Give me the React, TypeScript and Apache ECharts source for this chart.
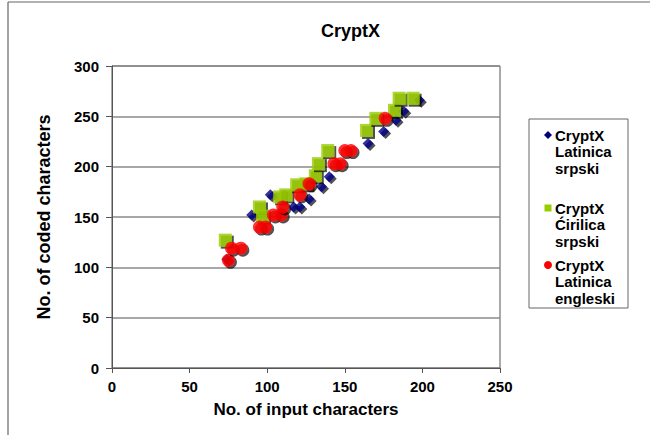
import React, { useEffect, useRef } from "react";
import * as echarts from "echarts";

const titleText = "CryptX";
const xAxisName = "No. of input characters";
const yAxisName = "No. of coded characters";

const seriesNames = ["CryptX\nLatinica\nsrpski", "CryptX\nĆirilica\nsrpski", "CryptX\nLatinica\nengleski"];
const seriesColors = ["#000080", "#99cc00", "#ff0000"];

const latSrpX = [74, 90, 102, 117, 121, 127, 135, 140, 165, 175, 183, 188, 198];
const latSrpY = [108, 152, 172, 160, 160, 168, 180, 190, 223, 235, 246, 255, 266];

const cirSrpX = [73, 95, 97, 108, 112, 119, 125, 131, 133, 139, 164, 170, 182, 185, 194];
const cirSrpY = [127, 160, 151, 170, 172, 182, 183, 191, 203, 216, 236, 248, 256, 268, 268];

const latEngX = [75, 77, 83, 95, 99, 104, 109, 110, 121, 127, 143, 147, 150, 154, 176];
const latEngY = [107, 119, 119, 140, 140, 152, 152, 160, 172, 183, 203, 203, 216, 216, 248];

const xTicks = { min: 0, max: 250, interval: 50 };
const yTicks = { min: 0, max: 300, interval: 50 };

function pairs(xs: number[], ys: number[]) {
  return xs.map((x, i) => [x, ys[i]]);
}

export default function App() {
  const ref = useRef<HTMLDivElement>(null);
  useEffect(() => {
    if (!ref.current) return;
    const chart = echarts.init(ref.current, null, { renderer: "svg" });
    const font = "Liberation Sans, Arial, sans-serif";
    const shadow = {
      shadowColor: "rgba(0,0,0,0.85)",
      shadowBlur: 1,
      shadowOffsetX: 2,
      shadowOffsetY: 2,
    };
    const legendTexts = [
      { y: 127, name: seriesNames[0] },
      { y: 200, name: seriesNames[1] },
      { y: 257, name: seriesNames[2] },
    ];
    chart.setOption({
      animation: false,
      backgroundColor: "#ffffff",
      title: {
        text: titleText,
        left: 316,
        top: 17,
        textStyle: { fontFamily: font, fontWeight: "bold", fontSize: 18, color: "#000" },
      },
      grid: {
        left: 112,
        right: 150,
        top: 66,
        bottom: 67,
        show: true,
        borderColor: "#555",
        borderWidth: 1,
        backgroundColor: "transparent",
      },
      xAxis: {
        type: "value",
        min: xTicks.min,
        max: xTicks.max,
        interval: xTicks.interval,
        name: xAxisName,
        nameLocation: "middle",
        nameGap: 33,
        nameTextStyle: { fontFamily: font, fontWeight: "bold", fontSize: 17, color: "#000" },
        axisLine: { show: true, lineStyle: { color: "#555", width: 1 } },
        axisTick: { show: true, inside: false, length: 5, lineStyle: { color: "#555" } },
        axisLabel: { fontFamily: font, fontWeight: "bold", fontSize: 15, color: "#000", margin: 11 },
        splitLine: { show: false },
      },
      yAxis: {
        type: "value",
        min: yTicks.min,
        max: yTicks.max,
        interval: yTicks.interval,
        name: yAxisName,
        nameLocation: "middle",
        nameGap: 59,
        nameTextStyle: { fontFamily: font, fontWeight: "bold", fontSize: 18, color: "#000" },
        axisLine: { show: true, lineStyle: { color: "#555", width: 1 } },
        axisTick: { show: true, inside: false, length: 6, lineStyle: { color: "#555" } },
        axisLabel: { fontFamily: font, fontWeight: "bold", fontSize: 15, color: "#000", margin: 13 },
        splitLine: { show: true, lineStyle: { color: "#8a8a8a", width: 1.5 } },
      },
      series: [
        {
          name: seriesNames[0],
          type: "scatter",
          symbol: "diamond",
          symbolSize: 11,
          data: pairs(latSrpX, latSrpY),
          itemStyle: { color: seriesColors[0], ...shadow },
        },
        {
          name: seriesNames[1],
          type: "scatter",
          symbol: "rect",
          symbolSize: 13,
          data: pairs(cirSrpX, cirSrpY),
          itemStyle: { color: seriesColors[1], ...shadow },
        },
        {
          name: seriesNames[2],
          type: "scatter",
          symbol: "circle",
          symbolSize: 13,
          data: pairs(latEngX, latEngY),
          itemStyle: { color: seriesColors[2], ...shadow },
        },
      ],
      graphic: [
        { type: "line", shape: { x1: 8, y1: 2, x2: 8, y2: 435 }, style: { stroke: "#666", lineWidth: 1.2 } },
        { type: "line", shape: { x1: 8, y1: 2, x2: 650, y2: 2 }, style: { stroke: "#666", lineWidth: 1.2 } },
        {
          type: "rect",
          shape: { x: 529, y: 119, width: 99, height: 189 },
          style: { fill: "#fff", stroke: "#666", lineWidth: 1 },
        },
        {
          type: "polygon",
          shape: { points: [[548, 131], [552, 135], [548, 139], [544, 135]] },
          style: { fill: seriesColors[0] },
        },
        {
          type: "rect",
          shape: { x: 544.5, y: 204.5, width: 7, height: 7 },
          style: { fill: seriesColors[1] },
        },
        {
          type: "circle",
          shape: { cx: 548, cy: 265, r: 4 },
          style: { fill: seriesColors[2] },
        },
        ...legendTexts.map((t) => ({
          type: "text",
          x: 555,
          y: t.y,
          style: {
            text: t.name,
            fontFamily: font,
            fontWeight: "bold",
            fontSize: 15,
            lineHeight: 16.5,
            fill: "#000",
          },
        })),
      ],
    });
    return () => chart.dispose();
  }, []);
  return <div ref={ref} style={{ position: "fixed", left: 0, top: 0, width: 650, height: 435 }} />;
}
